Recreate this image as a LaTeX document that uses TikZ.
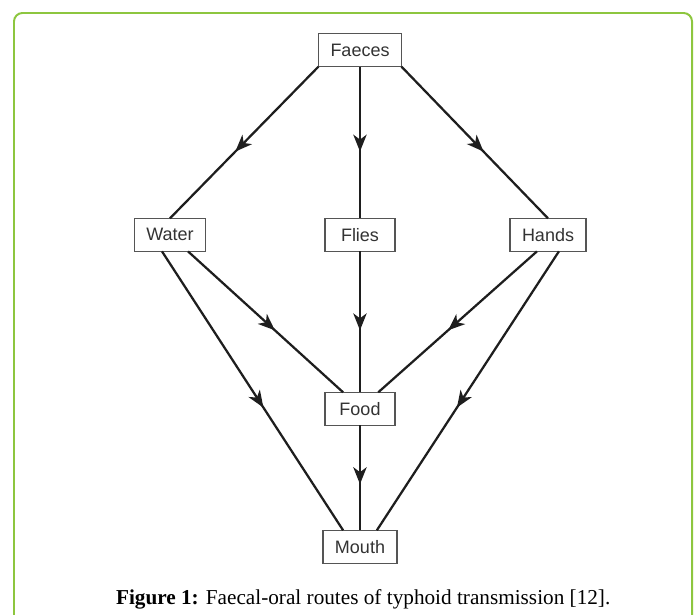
\documentclass[tikz,border=0pt]{standalone}
\usepackage{fontspec}
\setmainfont{Liberation Serif}
\newfontfamily\boxfont{Liberation Sans}
\usepackage{tkz-graph}
\usetikzlibrary{arrows.meta, decorations.markings}

\definecolor{frameGreen}{RGB}{141,198,63}
\definecolor{boxGray}{RGB}{85,85,85}
\definecolor{lineDark}{RGB}{30,30,30}

\begin{document}
\begin{tikzpicture}[scale = 10]
\tikzstyle{VertexStyle} = [shape = rectangle, draw = boxGray, line width = 0.8pt, fill = white, text = black!80, font = \boxfont\fontsize{12.8}{14}\selectfont, minimum width = 49.8pt, minimum height = 23.5pt, inner xsep = 8.5pt, inner ysep = 0pt]
\tikzstyle{EdgeStyle} = [draw = lineDark, line width = 1.6pt, postaction = {decorate}, decoration = {markings, mark = at position 0.56 with {\arrow{Stealth[length = 12pt, width = 9.5pt, inset = 3.5pt]}}}]
\tikzstyle{CaptionStyle} = [anchor = base, inner sep = 0pt, font = \fontsize{15.1}{17}\selectfont]
\useasboundingbox (0, 0) rectangle (1.7425, 1.535);
\clip (0, 0) rectangle (1.7425, 1.535);
\draw[frameGreen, line width = 1.4pt, rounded corners = 6pt] (0.035, 1.5025) rectangle (1.730, -0.065);
% sources and routes
\Vertex[x = 0.900, y = 1.410, L = {Faeces}]{faeces}
\Vertex[x = 0.425, y = 0.948, L = {Water}]{water}
\Vertex[x = 0.900, y = 0.948, L = {Flies}]{flies}
\Vertex[x = 1.370, y = 0.948, L = {Hands}]{hands}
\Vertex[x = 0.900, y = 0.513, L = {Food}]{food}
\Vertex[x = 0.900, y = 0.168, L = {Mouth}]{mouth}
% routes (shifts are scaled by 10 too)
\draw[EdgeStyle] (faeces.south west) -- (water.north);
\draw[EdgeStyle] (faeces.south) -- (flies.north);
\draw[EdgeStyle] (faeces.south east) -- (hands.north);
\draw[EdgeStyle] ([xshift = 1.28pt]water.south) -- ([xshift = -1.2pt]food.north);
\draw[EdgeStyle] ([xshift = -0.57pt]water.south) -- ([xshift = -1.2pt]mouth.north);
\draw[EdgeStyle] (flies.south) -- (food.north);
\draw[EdgeStyle] ([xshift = -0.78pt]hands.south) -- ([xshift = 1.3pt]food.north);
\draw[EdgeStyle] ([xshift = 0.78pt]hands.south) -- ([xshift = 1.2pt]mouth.north);
\draw[EdgeStyle] (food.south) -- (mouth.north);
\node[CaptionStyle] (caption) at (0.908, 0.025) {\textbf{Figure 1:} Faecal-oral routes of typhoid transmission [12].};
\end{tikzpicture}
\end{document}
